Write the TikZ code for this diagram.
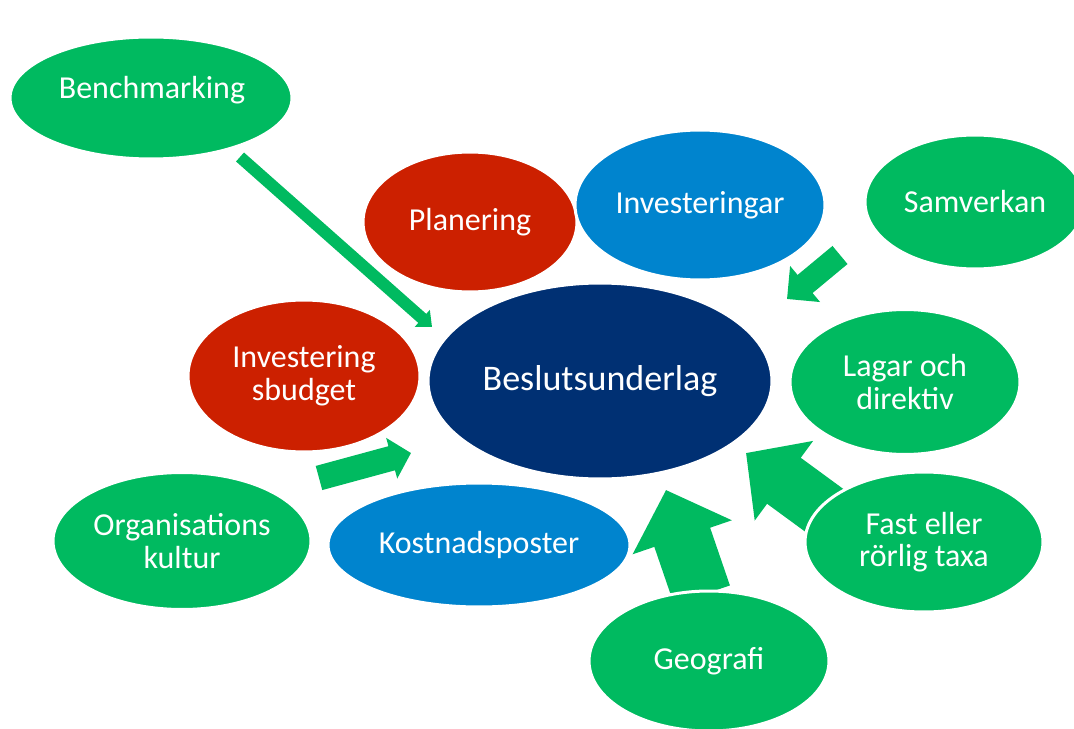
\documentclass[tikz,border=0pt]{standalone}
\usepackage{fontspec}
\setmainfont{Carlito}
\usetikzlibrary{shapes.geometric,arrows.meta}
\definecolor{bgreen}{RGB}{0,186,96}
\definecolor{bred}{RGB}{204,32,0}
\definecolor{bblue}{RGB}{0,132,206}
\definecolor{bnavy}{RGB}{0,48,115}
\tikzset{
  bubble/.style={ellipse, draw=white, line width=0.06cm, fill=#1, text=white,
    align=center, inner sep=0pt, font=\fontsize{18.2}{18.6}\selectfont},
  bsize/.style 2 args={minimum width=#1cm, minimum height=#2cm},
  blockarrow/.style n args={3}{bgreen, line width=#1cm,
    -{Triangle[width=#2cm, length=#3cm]}},
}
\begin{document}
\begin{tikzpicture}[x=0.02cm, y=-0.02cm]
  \useasboundingbox (0,0) rectangle (1074,729);

  \coordinate (a1) at (240,157);  \coordinate (b1) at (432,327);
  \coordinate (a2) at (319,478);  \coordinate (b2) at (411,453);
  \coordinate (a3) at (840,255);  \coordinate (b3) at (787,299);
  \coordinate (a4) at (702,595);  \coordinate (b4) at (666,490);
  \coordinate (a5) at (832,516);  \coordinate (b5) at (746,453);

  \draw[blockarrow={0.24}{0.44}{0.26}] (a1) -- (b1);
  \draw[blockarrow={0.5}{0.82}{0.4}]   (a2) -- (b2);
  \draw[blockarrow={0.47}{0.91}{0.47}] (a3) -- (b3);
  \draw[blockarrow={1.18}{2.04}{1.0}]  (a4) -- (b4);
  \draw[blockarrow={1.14}{1.92}{0.94}] (a5) -- (b5);

  \node[bubble=bgreen, bsize={5.64}{2.44}] (bench)   at (151,98)  {};
  \node[text=white, font=\fontsize{18.2}{18.6}\selectfont]
                                           (benchtext) at (152,90) {Benchmarking};
  \node[bubble=bred,   bsize={4.28}{2.8}]  (plan)    at (470,222) {Planering};
  \node[bubble=bblue,  bsize={5.0}{3.0}]   (invest)  at (700,205) {Investeringar};
  \node[bubble=bgreen, bsize={4.4}{2.68}]  (samv)    at (975,202) {Samverkan};
  \node[bubble=bnavy,  bsize={6.88}{3.92}, font=\fontsize{20.5}{22}\selectfont]
                                           (beslut)  at (600,381) {Beslutsunderlag};
  \node[bubble=bred,   bsize={4.64}{3.04}] (budget)  at (304,376) {Investering\\sbudget};
  \node[bubble=bgreen, bsize={4.6}{2.9}]   (lagar)   at (905,382) {Lagar och\\direktiv};
  \node[bubble=bgreen, bsize={5.16}{2.74}] (kultur)  at (182,541) {Organisations\\kultur};
  \node[bubble=bblue,  bsize={6.04}{2.48}] (kostnad) at (479,545) {Kostnadsposter};
  \node[bubble=bgreen, bsize={4.76}{2.8}]  (taxa)    at (924,542) {Fast eller\\rörlig taxa};
  \node[bubble=bgreen, bsize={4.8}{2.8}]   (geo)     at (709,661) {Geografi};
\end{tikzpicture}
\end{document}
